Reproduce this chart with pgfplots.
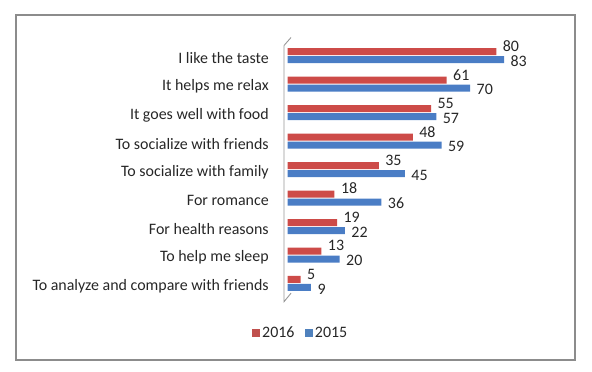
\documentclass[border=0pt]{standalone}
\usepackage{pgfplots}
\pgfplotsset{compat=1.18}
\usepackage{fontspec}
\setmainfont{Carlito}
\definecolor{redB}{HTML}{CD4B48}
\definecolor{bluB}{HTML}{4A7DC5}
\definecolor{legR}{HTML}{C0504D}
\definecolor{legB}{HTML}{4F81BD}
\definecolor{txt}{HTML}{262626}
\begin{document}
\begin{tikzpicture}[x=1bp,y=1bp]
\path[use as bounding box] (0,0) rectangle (592,371);
\draw[color={rgb,255:red,140;green,140;blue,140}, line width=1.4bp] (16,11) rectangle (575,356);
\begin{axis}[
  at={(287.5bp,73.3bp)}, anchor=south west,
  scale only axis, width=261bp, height=256.2bp,
  xmin=0, xmax=100, ymin=-0.5, ymax=8.5,
  axis lines*=left, axis line style={draw=none},
  xtick=\empty, ytick={0,...,8},
  tick style={draw=none},
  yticklabels={To analyze and compare with friends, To help me sleep, For health reasons, For romance, To socialize with family, To socialize with friends, It goes well with food, It helps me relax, I like the taste},
  yticklabel style={font=\fontsize{16}{19}\selectfont, text=txt, anchor=east, xshift=-11bp, yshift=-2.5bp},
  /pgf/number format/assume math mode=true,
  xbar, bar width=7bp,
  nodes near coords,
  every node near coord/.append style={font=\fontsize{16}{19}\selectfont, text=txt, anchor=west, xshift=3bp},
  legend style={at={(0.05,-0.138)}, anchor=center, draw=none, fill=none, legend columns=2, font=\fontsize{16}{19}\selectfont, text=txt, /tikz/every even column/.append style={column sep=8bp}},
  legend cell align=left,
  clip=false,
]
\addplot[draw=none, fill=redB, bar shift=4bp,
  every node near coord/.append style={yshift=5.5bp}, forget plot]
  coordinates {(80,8) (61,7) (55,6) (48,5) (35,4) (18,3) (19,2) (13,1) (5,0)};
\addplot[draw=none, fill=bluB, bar shift=-4bp,
  every node near coord/.append style={yshift=-1.5bp}, forget plot]
  coordinates {(83,8) (70,7) (57,6) (59,5) (45,4) (36,3) (22,2) (20,1) (9,0)};
\addlegendimage{legend image code/.code={\fill[legR] (0bp,-3.5bp) rectangle (7bp,3.5bp); \path (8bp,0bp);}}
\addlegendentry{2016}
\addlegendimage{legend image code/.code={\fill[legB] (0bp,-3.5bp) rectangle (7bp,3.5bp); \path (8bp,0bp);}}
\addlegendentry{2015}
% 3D wall
\draw[color={rgb,255:red,150;green,150;blue,150}, line width=0.9bp]
  ([xshift=-3.5bp,yshift=-4bp]rel axis cs:0,1) -- ([xshift=-3.5bp,yshift=-4bp]rel axis cs:0,0)
  -- ([xshift=3.5bp,yshift=4.5bp]rel axis cs:0,0);
\draw[color={rgb,255:red,150;green,150;blue,150}, line width=0.9bp]
  ([xshift=-3.5bp,yshift=-4bp]rel axis cs:0,1) -- ([xshift=3.5bp,yshift=4bp]rel axis cs:0,1);
\end{axis}
\end{tikzpicture}
\end{document}
